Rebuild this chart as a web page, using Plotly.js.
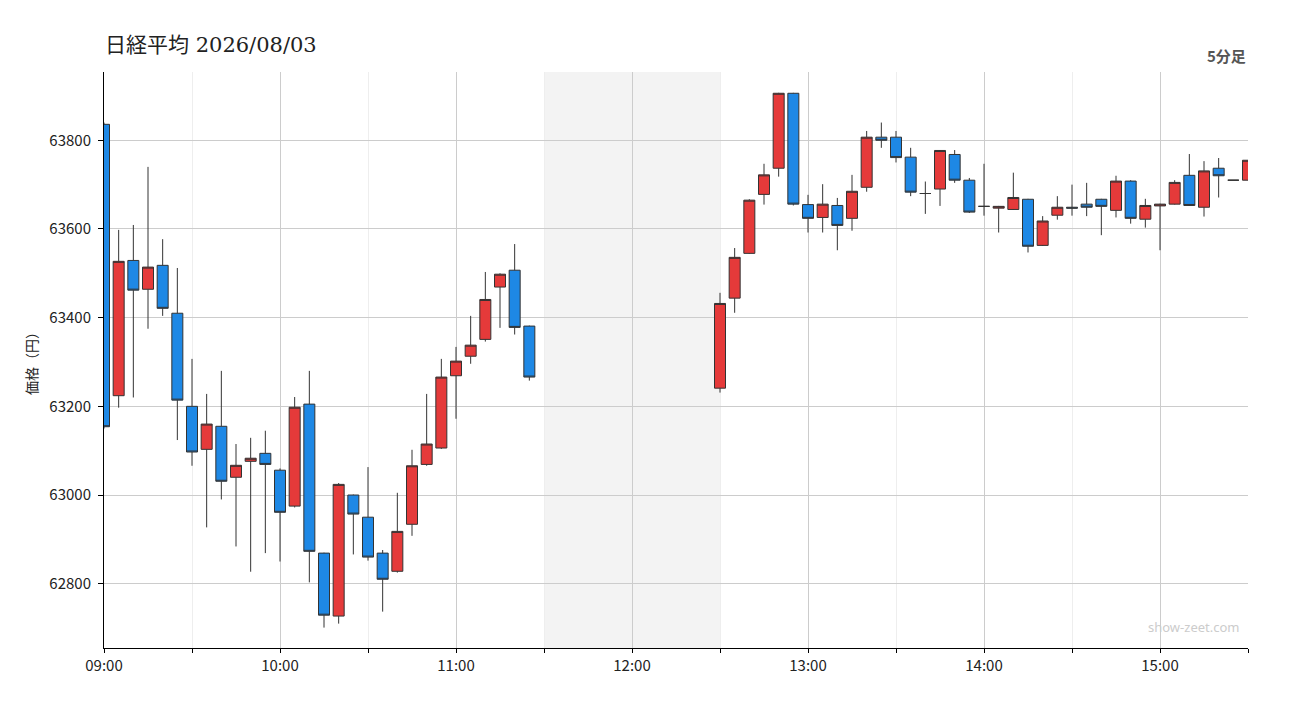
<!DOCTYPE html>
<html>
<head>
<meta charset="utf-8">
<script src="https://cdn.plot.ly/plotly-3.0.1.min.js"></script>
<style>
html,body{margin:0;padding:0;background:#fff;}
#chart{width:1300px;height:720px;}
</style>
</head>
<body>
<div id="chart"></div>
<script>
const chartTitle = "日経平均 2026/08/03";
const dateStr = "2026-08-03";
const times = [
  "09:00","09:05","09:10","09:15","09:20","09:25","09:30","09:35","09:40","09:45",
  "09:50","09:55","10:00","10:05","10:10","10:15","10:20","10:25","10:30","10:35",
  "10:40","10:45","10:50","10:55","11:00","11:05","11:10","11:15","11:20","11:25",
  "12:30","12:35","12:40","12:45","12:50","12:55","13:00","13:05","13:10","13:15",
  "13:20","13:25","13:30","13:35","13:40","13:45","13:50","13:55","14:00","14:05",
  "14:10","14:15","14:20","14:25","14:30","14:35","14:40","14:45","14:50","14:55",
  "15:00","15:05","15:10","15:15","15:20","15:25","15:30"
];
const opens = [
  63836,63224,63529,63464,63518,63410,63200,63103,63155,63040,
  63076,63094,63056,62975,63205,62869,62727,63000,62950,62869,
  62828,62934,63069,63106,63269,63313,63351,63469,63507,63381,
  63241,63444,63545,63678,63737,63906,63655,63626,63653,63624,
  63694,63807,63807,63762,63680,63690,63768,63710,63651,63647,
  63644,63667,63563,63631,63649,63656,63667,63642,63708,63622,
  63652,63656,63721,63649,63737,63710,63710
];
const highs = [
  63840,63598,63609,63740,63577,63512,63307,63228,63280,63115,
  63129,63145,63060,63221,63280,62870,63027,63001,63063,62876,
  63005,63102,63228,63307,63334,63404,63503,63500,63566,63382,
  63456,63557,63667,63747,63907,63907,63677,63701,63670,63722,
  63821,63840,63821,63783,63707,63778,63778,63715,63747,63652,
  63727,63668,63629,63674,63700,63704,63668,63720,63710,63668,
  63657,63710,63769,63753,63760,63710,63755
];
const lows = [
  63150,63197,63220,63375,63404,63124,63066,62927,62990,62884,
  62827,62869,62850,62972,62803,62701,62710,62866,62852,62737,
  62825,62908,63066,63104,63172,63296,63346,63377,63362,63258,
  63231,63411,63544,63655,63718,63653,63592,63592,63552,63596,
  63684,63783,63750,63674,63634,63652,63704,63636,63630,63592,
  63643,63547,63562,63621,63630,63629,63586,63626,63612,63603,
  63552,63655,63652,63628,63671,63710,63710
];
const closes = [
  63154,63527,63462,63514,63421,63214,63097,63160,63031,63067,
  63083,63069,62961,63198,62873,62729,63024,62957,62860,62810,
  62918,63066,63115,63266,63302,63338,63441,63498,63378,63266,
  63432,63536,63665,63722,63906,63656,63624,63656,63608,63685,
  63807,63800,63761,63683,63680,63777,63710,63638,63651,63651,
  63671,63561,63618,63649,63647,63649,63651,63708,63624,63653,
  63656,63705,63653,63731,63720,63710,63755
];
const sessionStart = "09:00";
const sessionEnd = "15:30";
const lunchStart = "11:30";
const lunchEnd = "12:30";
const yTickValues = [62800, 63000, 63200, 63400, 63600, 63800];
const yRange = [62655, 63954];

const xs = times.map(t => dateStr + " " + t);

const trace = {
  type: "candlestick",
  x: xs, open: opens, high: highs, low: lows, close: closes,
  increasing: {fillcolor: "#e53a3a", line: {color: "#333333", width: 1}},
  decreasing: {fillcolor: "#1e88e5", line: {color: "#333333", width: 1}},
  whiskerwidth: 0,
  showlegend: false,
  hoverinfo: "x+y"
};

const tickFont = {family: "'Noto Sans CJK JP', 'Noto Sans', sans-serif", size: 15, color: "#222"};

const layout = {
  width: 1300, height: 720,
  paper_bgcolor: "#fff", plot_bgcolor: "#fff",
  margin: {l: 104, r: 52, t: 72, b: 72, pad: 0},
  boxgap: 0.25, boxgroupgap: 0,
  title: {
    text: chartTitle,
    font: {family: "'DejaVu Serif', 'Noto Sans CJK JP', serif", size: 21, color: "#222"},
    x: 105/1300, xref: "container", xanchor: "left",
    y: 1 - 45/720, yref: "container", yanchor: "middle"
  },
  xaxis: {
    type: "date",
    range: [dateStr + " " + sessionStart, dateStr + " " + sessionEnd],
    rangeslider: {visible: false},
    tick0: dateStr + " 09:00", dtick: 3600000,
    tickformat: "%H:%M",
    ticks: "outside", ticklen: 4, tickcolor: "#000", tickwidth: 1,
    showgrid: true, gridcolor: "#cccccc", gridwidth: 1,
    minor: {dtick: 1800000, tick0: dateStr + " 09:00", ticks: "outside", ticklen: 4, tickcolor: "#000",
            showgrid: true, gridcolor: "#eeeeee", gridwidth: 1},
    showline: true, linecolor: "#000", linewidth: 1,
    zeroline: false,
    tickfont: tickFont,
    fixedrange: true
  },
  yaxis: {
    range: yRange,
    tickvals: yTickValues,
    ticktext: yTickValues.map(String),
    ticks: "outside", ticklen: 5, tickcolor: "#000", tickwidth: 1,
    showgrid: true, gridcolor: "#cccccc", gridwidth: 1,
    showline: true, linecolor: "#000", linewidth: 1,
    zeroline: false,
    tickfont: tickFont,
    ticklabelstandoff: 4,
    title: {text: "価格（円）", font: {family: "'Noto Sans CJK JP', sans-serif", size: 14, color: "#222"}, standoff: 8},
    fixedrange: true
  },
  shapes: [{
    type: "rect", xref: "x", yref: "paper",
    x0: dateStr + " " + lunchStart, x1: dateStr + " " + lunchEnd,
    y0: 0, y1: 1,
    fillcolor: "#f3f3f3", line: {width: 0}, layer: "below"
  }],
  annotations: [
    {text: "<b>5分足</b>", xref: "paper", yref: "paper", x: 1, y: 1 + 17/576,
     xanchor: "right", yanchor: "middle", showarrow: false,
     font: {family: "'Noto Sans CJK JP', sans-serif", size: 15, color: "#555"}},
    {text: "show-zeet.com", xref: "paper", yref: "paper", x: (1241-104)/1144, y: 21/576,
     xanchor: "right", yanchor: "middle", showarrow: false,
     font: {family: "'Noto Sans', sans-serif", size: 13, color: "#cccccc"}}
  ]
};

Plotly.newPlot("chart", [trace], layout, {displayModeBar: false, staticPlot: true});
</script>
</body>
</html>
